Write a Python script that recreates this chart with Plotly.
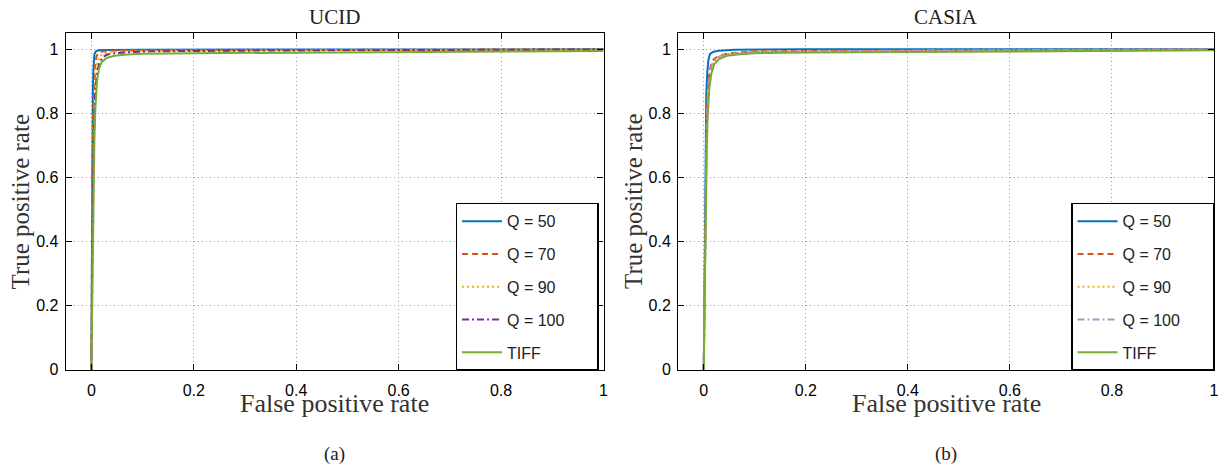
import plotly.graph_objects as go

# ---------------- data ----------------
series_names = ["Q = 50", "Q = 70", "Q = 90", "Q = 100", "TIFF"]
panel_titles = ["UCID", "CASIA"]
panel_labels = ["(a)", "(b)"]
x_ticks = [0, 0.2, 0.4, 0.6, 0.8, 1]
x_tick_text = ["0", "0.2", "0.4", "0.6", "0.8", "1"]
y_ticks = [0, 0.2, 0.4, 0.6, 0.8, 1]
y_tick_text = ["0", "0.2", "0.4", "0.6", "0.8", "1"]

# UCID
ucid_q50_fpr = [0, 0.001, 0.002, 0.003, 0.004, 0.005, 0.006, 0.008, 0.010, 0.015, 0.03, 0.1, 0.3, 1.0]
ucid_q50_tpr = [0, 0.45, 0.75, 0.88, 0.94, 0.97, 0.985, 0.992, 0.995, 0.997, 0.998, 0.999, 0.999, 1.0]
ucid_q70_fpr = [0, 0.001, 0.002, 0.004, 0.006, 0.008, 0.010, 0.013, 0.02, 0.04, 0.1, 0.5, 1.0]
ucid_q70_tpr = [0, 0.35, 0.62, 0.82, 0.92, 0.96, 0.978, 0.988, 0.993, 0.996, 0.997, 0.998, 1.0]
ucid_q90_fpr = [0, 0.001, 0.003, 0.005, 0.007, 0.009, 0.012, 0.016, 0.024, 0.045, 0.1, 0.5, 1.0]
ucid_q90_tpr = [0, 0.3, 0.6, 0.78, 0.88, 0.935, 0.962, 0.978, 0.987, 0.992, 0.995, 0.997, 1.0]
ucid_q100_fpr = [0, 0.002, 0.004, 0.006, 0.008, 0.012, 0.016, 0.022, 0.03, 0.045, 0.07, 0.12, 0.3, 1.0]
ucid_q100_tpr = [0, 0.4, 0.65, 0.8, 0.88, 0.935, 0.96, 0.975, 0.983, 0.988, 0.991, 0.994, 0.996, 1.0]
ucid_tiff_fpr = [0, 0.002, 0.004, 0.006, 0.008, 0.011, 0.015, 0.02, 0.03, 0.045, 0.07, 0.1, 0.2, 0.5, 0.8, 1.0]
ucid_tiff_tpr = [0, 0.3, 0.55, 0.72, 0.82, 0.9, 0.94, 0.96, 0.973, 0.98, 0.984, 0.986, 0.988, 0.99, 0.992, 0.995]

# CASIA
casia_q50_fpr = [0, 0.002, 0.004, 0.005, 0.007, 0.009, 0.012, 0.018, 0.03, 0.06, 0.2, 1.0]
casia_q50_tpr = [0, 0.4, 0.75, 0.86, 0.93, 0.965, 0.985, 0.992, 0.996, 0.999, 1.0, 1.0]
casia_q70_fpr = [0, 0.002, 0.004, 0.006, 0.008, 0.011, 0.015, 0.02, 0.03, 0.05, 0.1, 0.4, 1.0]
casia_q70_tpr = [0, 0.3, 0.62, 0.8, 0.88, 0.93, 0.955, 0.97, 0.98, 0.988, 0.994, 0.997, 1.0]
casia_q90_fpr = [0, 0.002, 0.004, 0.006, 0.009, 0.012, 0.016, 0.022, 0.032, 0.05, 0.1, 0.4, 1.0]
casia_q90_tpr = [0, 0.28, 0.58, 0.76, 0.87, 0.92, 0.948, 0.965, 0.977, 0.985, 0.991, 0.995, 0.999]
casia_q100_fpr = [0, 0.002, 0.004, 0.006, 0.009, 0.012, 0.016, 0.022, 0.032, 0.05, 0.1, 0.4, 1.0]
casia_q100_tpr = [0, 0.3, 0.6, 0.78, 0.88, 0.925, 0.952, 0.968, 0.979, 0.986, 0.992, 0.996, 1.0]
casia_tiff_fpr = [0, 0.002, 0.004, 0.006, 0.008, 0.011, 0.015, 0.021, 0.03, 0.045, 0.07, 0.1, 0.2, 0.5, 1.0]
casia_tiff_tpr = [0, 0.25, 0.5, 0.7, 0.8, 0.88, 0.925, 0.955, 0.97, 0.98, 0.985, 0.988, 0.99, 0.992, 0.997]

ucid = [(ucid_q50_fpr, ucid_q50_tpr), (ucid_q70_fpr, ucid_q70_tpr), (ucid_q90_fpr, ucid_q90_tpr),
        (ucid_q100_fpr, ucid_q100_tpr), (ucid_tiff_fpr, ucid_tiff_tpr)]
casia = [(casia_q50_fpr, casia_q50_tpr), (casia_q70_fpr, casia_q70_tpr), (casia_q90_fpr, casia_q90_tpr),
         (casia_q100_fpr, casia_q100_tpr), (casia_tiff_fpr, casia_tiff_tpr)]

# ---------------- styles ----------------
colors_a = ["#0072BD", "#D95319", "#EDB120", "#7E2F8E", "#77AC30"]
colors_b = ["#0072BD", "#D95319", "#EDB120", "#B98BC9", "#77AC30"]
dashes = ["solid", "6px,4px", "2px,3px", "7px,3px,2px,3px", "solid"]
widths = [2, 2, 2, 2, 2]
legend_text_pad = ["", "", "", "\u00a0\u00a0\u00a0\u00a0\u00a0\u00a0", ""]

W, H = 1223, 468
SERIF = "Liberation Serif, Times New Roman, serif"
SANS = "Liberation Sans, Arial, sans-serif"

fig = go.Figure()

panels = [
    dict(data=ucid, colors=colors_a, xa="x", ya="y", legend="legend"),
    dict(data=casia, colors=colors_b, xa="x2", ya="y2", legend="legend2"),
]
for p in panels:
    for i, (fx, ty) in enumerate(p["data"]):
        fig.add_trace(go.Scatter(
            x=fx, y=ty, mode="lines",
            name=series_names[i] + legend_text_pad[i],
            line=dict(color=p["colors"][i], width=widths[i], dash=dashes[i]),
            xaxis=p["xa"], yaxis=p["ya"], legend=p["legend"],
            legendgroup=p["legend"] + str(i),
        ))

# pixel geometry of the axes boxes
ax_boxes = [(66, 606, 34, 377), (681, 1219, 34, 377)]

def xdom(l, r):
    return [l / W, r / W]

def ydom(t, b):
    return [(H - b) / H, (H - t) / H]

common_axis = dict(
    showline=True, linecolor="black", linewidth=1.3, mirror="ticks",
    ticks="inside", ticklen=6, tickwidth=1, tickcolor="black",
    showgrid=True, gridcolor="#9a9a9a", gridwidth=1, griddash="1px,3px",
    zeroline=False, tickfont=dict(family=SANS, size=16, color="black"),
)

fig.update_layout(
    xaxis=dict(domain=xdom(ax_boxes[0][0], ax_boxes[0][1]), range=[-0.05, 1], anchor="y",
               tickvals=x_ticks, ticktext=x_tick_text, ticklabelstandoff=6, **common_axis),
    yaxis=dict(domain=ydom(ax_boxes[0][2], ax_boxes[0][3]), range=[0, 1.05], anchor="x",
               tickvals=y_ticks, ticktext=y_tick_text, ticklabelstandoff=3, **common_axis),
    xaxis2=dict(domain=xdom(ax_boxes[1][0], ax_boxes[1][1]), range=[-0.05, 1], anchor="y2",
                tickvals=x_ticks, ticktext=x_tick_text, ticklabelstandoff=6, **common_axis),
    yaxis2=dict(domain=ydom(ax_boxes[1][2], ax_boxes[1][3]), range=[0, 1.05], anchor="x2",
                tickvals=y_ticks, ticktext=y_tick_text, ticklabelstandoff=3, **common_axis),
)

legend_common = dict(
    bgcolor="white", bordercolor="black", borderwidth=1.5,
    font=dict(family=SANS, size=16, color="#222"),
    tracegroupgap=9, itemwidth=40, traceorder="grouped",
    xanchor="right", yanchor="bottom", itemclick=False,
)
fig.update_layout(
    legend=dict(x=601 / W, y=(H - 378) / H, **legend_common),
    legend2=dict(x=1219 / W, y=(H - 378) / H, **legend_common),
)

annotations = []
for k, (l, r, t, b) in enumerate(ax_boxes):
    cx = (l + r) / 2 / W
    annotations.append(dict(text=panel_titles[k], x=cx, y=(H - 17) / H, xref="paper", yref="paper",
                            showarrow=False, xanchor="center", yanchor="middle",
                            font=dict(family=SERIF, size=21, color="#222")))
    annotations.append(dict(text="False positive rate", x=cx, y=(H - 411) / H, xref="paper", yref="paper",
                            showarrow=False, xanchor="center", yanchor="middle",
                            font=dict(family=SERIF, size=26, color="#333")))
    annotations.append(dict(text="True positive rate", x=(l - 45) / W, y=(H - (t + b) / 2) / H,
                            xref="paper", yref="paper", textangle=-90,
                            showarrow=False, xanchor="center", yanchor="middle",
                            font=dict(family=SERIF, size=25, color="#333")))
    annotations.append(dict(text=panel_labels[k], x=cx, y=(H - 463) / H, xref="paper", yref="paper",
                            showarrow=False, xanchor="center", yanchor="middle",
                            font=dict(family=SERIF, size=19, color="#222")))

fig.update_layout(
    width=W, height=H, margin=dict(l=0, r=0, t=0, b=0),
    paper_bgcolor="white", plot_bgcolor="white",
    annotations=annotations, showlegend=True,
)

fig.write_html(
    "out.html",
    config={"displayModeBar": False},
    post_script="document.body.style.margin='0px';document.body.style.overflow='hidden';",
)
